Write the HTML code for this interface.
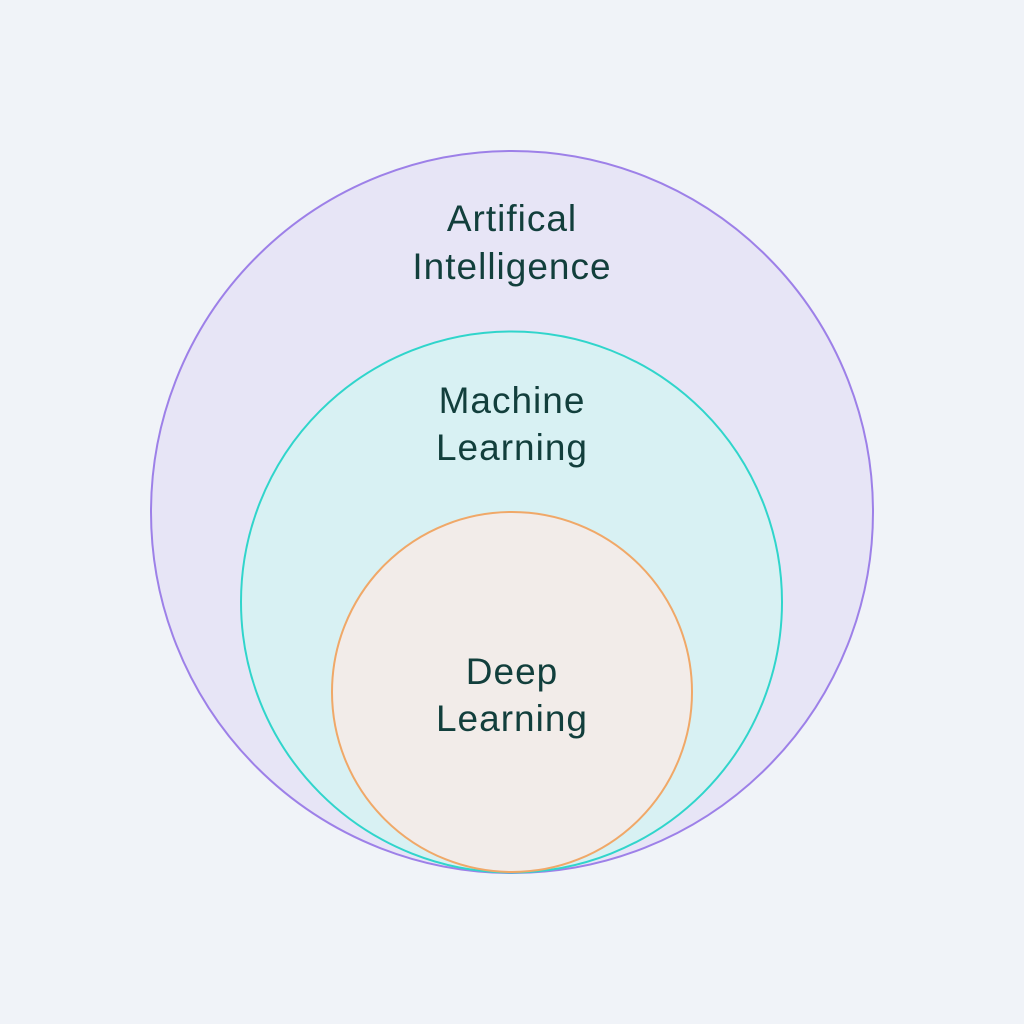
<!DOCTYPE html>
<html><head><meta charset="utf-8"><style>
html,body{margin:0;padding:0;background:#f0f3f8;}
svg{display:block}
text{font-family:"Liberation Sans",sans-serif;font-size:37px;letter-spacing:1px;fill:#123f3c;text-anchor:middle;font-weight:500}
</style></head><body>
<svg width="1024" height="1024" viewBox="0 0 1024 1024">
<rect width="1024" height="1024" fill="#f0f3f8"/>
<circle cx="512" cy="512" r="361" fill="#e7e5f6" stroke="#9d80e8" stroke-width="2"/>
<circle cx="511.5" cy="602" r="270.5" fill="#d8f1f3" stroke="#30d5cb" stroke-width="2"/>
<circle cx="512" cy="692" r="180" fill="#f2ece9" stroke="#f0a868" stroke-width="2"/>
<text x="512" y="231">Artifical</text>
<text x="512" y="279">Intelligence</text>
<text x="512" y="413">Machine</text>
<text x="512" y="460">Learning</text>
<text x="512" y="684">Deep</text>
<text x="512" y="731">Learning</text>
</svg>
</body></html>
